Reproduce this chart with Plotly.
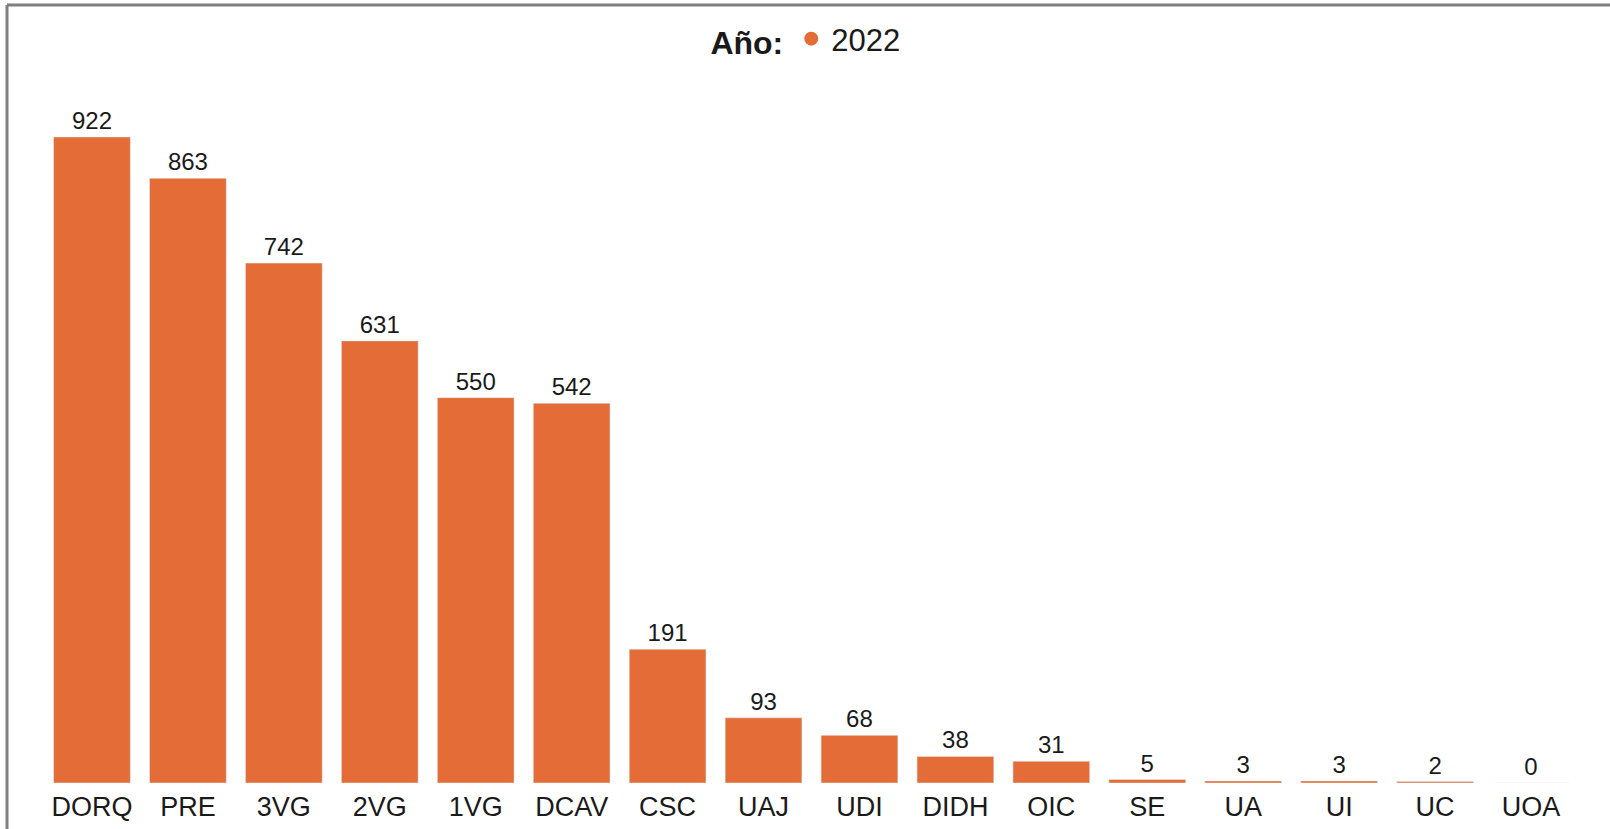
import plotly.graph_objects as go

# dados do gráfico
areas = ['DORQ', 'PRE', '3VG', '2VG', '1VG', 'DCAV', 'CSC', 'UAJ',
         'UDI', 'DIDH', 'OIC', 'SE', 'UA', 'UI', 'UC', 'UOA']
valores_2022 = [922, 863, 742, 631, 550, 542, 191, 93, 68, 38, 31, 5, 3, 3, 2, 0]
ano = '2022'

cor_barra = '#E46C36'
fonte = 'Liberation Sans, Arial, sans-serif'

fig = go.Figure()

# barras (sem legenda, a legenda usa um ponto redondo)
fig.add_trace(go.Bar(
    x=areas, y=valores_2022, name=ano,
    marker_color=cor_barra,
    text=valores_2022, textposition='outside',
    textfont=dict(size=24, color='#1a1a1a', family=fonte),
    cliponaxis=False, showlegend=False
))

# item de legenda com marcador circular
fig.add_trace(go.Scatter(
    x=[None], y=[None], mode='markers', name=ano,
    marker=dict(color=cor_barra, size=14, symbol='circle'),
    showlegend=True
))

# moldura cinza (topo e esquerda)
l, r, t, b = 44, 31, 100, 46
largura, altura = 1610, 829
w = largura - l - r
h = altura - t - b
x_borda = (7 - l) / w
y_borda = (altura - b - 5) / h
fig.add_shape(type='line', xref='paper', yref='paper',
              x0=x_borda, x1=(largura - l + 5) / w, y0=y_borda, y1=y_borda,
              line=dict(color='#7f7f7f', width=3))
fig.add_shape(type='line', xref='paper', yref='paper',
              x0=x_borda, x1=x_borda, y0=y_borda, y1=-(b + 5) / h,
              line=dict(color='#7f7f7f', width=3))

fig.update_layout(
    width=largura, height=altura,
    margin=dict(l=l, r=r, t=t, b=b),
    plot_bgcolor='white', paper_bgcolor='white',
    bargap=0.2,
    font=dict(family=fonte, color='#1a1a1a'),
    showlegend=True,
    legend=dict(
        orientation='h', x=0.497, xanchor='center', y=(altura - b - 39) / h, yanchor='middle',
        title=dict(text='<b>Año:</b>', font=dict(size=32, family=fonte, color='#1a1a1a')),
        font=dict(size=31, family=fonte, color='#1a1a1a'),
        itemwidth=30
    ),
    xaxis=dict(showgrid=False, showline=False, ticks='', ticklabelstandoff=5,
               automargin=False,
               tickfont=dict(size=27, family=fonte, color='#1a1a1a')),
    yaxis=dict(visible=False, automargin=False, range=[0, (h) / (646 / 922)]),
)

fig.write_html('out.html', config={'displayModeBar': False},
               post_script="document.body.style.margin='0px';")
